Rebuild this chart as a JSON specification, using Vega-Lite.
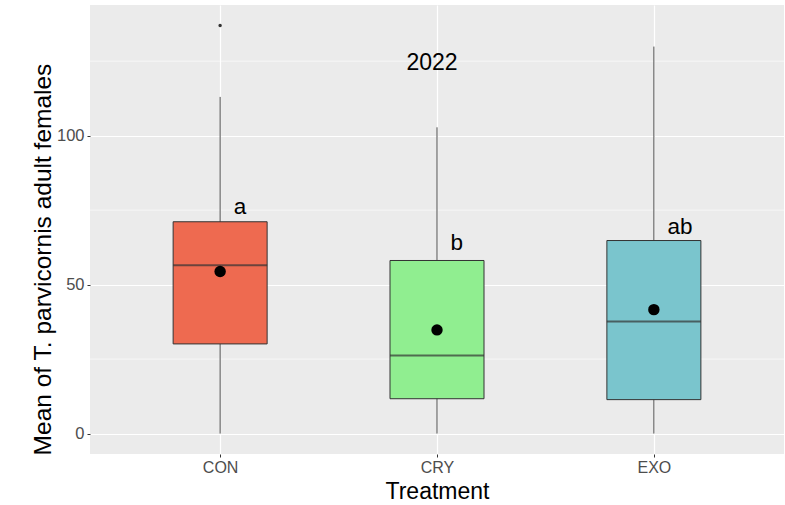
{
  "$schema": "https://vega.github.io/schema/vega-lite/v6.json",
  "width": 694,
  "height": 449,
  "autosize": {"type": "none"},
  "padding": {"left": 90, "top": 5, "right": 1, "bottom": 51},
  "background": "white",
  "config": {
    "view": {"fill": "#EBEBEB", "stroke": null},
    "font": "Liberation Sans"
  },
  "datasets": {
    "stats": [
      {"Treatment": "CON", "lower": 0, "q1": 30.1, "median": 56.5, "q3": 71.1, "upper": 113, "mean": 54.4, "letter": "a", "letterY": 76},
      {"Treatment": "CRY", "lower": 0, "q1": 11.7, "median": 26.2, "q3": 58.1, "upper": 102.8, "mean": 34.8, "letter": "b", "letterY": 64},
      {"Treatment": "EXO", "lower": 0, "q1": 11.4, "median": 37.6, "q3": 64.8, "upper": 129.9, "mean": 41.6, "letter": "ab", "letterY": 69.5}
    ],
    "outliers": [
      {"Treatment": "CON", "value": 137}
    ],
    "minor": [
      {"v": 25}, {"v": 75}, {"v": 125}
    ],
    "yeartext": [
      {"Treatment": "CRY", "value": 124.5, "text": "2022"}
    ]
  },
  "layer": [
    {
      "data": {"name": "minor"},
      "mark": {"type": "rule", "color": "white", "strokeWidth": 0.6},
      "encoding": {
        "y": {"field": "v", "type": "quantitative", "scale": {"domain": [-6.85, 143.85], "nice": false, "zero": false}}
      }
    },
    {
      "data": {"name": "stats"},
      "mark": {"type": "rule", "color": "#4D4D4D", "strokeWidth": 1},
      "encoding": {
        "x": {
          "field": "Treatment", "type": "nominal",
          "scale": {"type": "point", "padding": 0.6},
          "axis": {
            "title": "Treatment", "titleFontSize": 23, "titleColor": "black", "titleFontWeight": "normal", "titlePadding": 5,
            "labelFontSize": 16, "labelColor": "#4D4D4D", "labelPadding": 2, "labelAngle": 0,
            "tickSize": 3, "tickColor": "#333333", "domain": false,
            "grid": true, "gridColor": "white", "gridWidth": 1.2
          }
        },
        "y": {
          "field": "lower", "type": "quantitative",
          "scale": {"domain": [-6.85, 143.85], "nice": false, "zero": false},
          "axis": {
            "title": "Mean of T. parvicornis adult females", "titleFontSize": 24.5, "titleColor": "black", "titleFontWeight": "normal",
            "titleX": -47, "titleY": 254, "titleBaseline": "middle", "titleAngle": -90, "titleAlign": "center",
            "values": [0, 50, 100], "labelFontSize": 16.5, "labelColor": "#4D4D4D", "labelPadding": 3,
            "tickSize": 3, "tickColor": "#333333", "domain": false,
            "grid": true, "gridColor": "white", "gridWidth": 1.2
          }
        },
        "y2": {"field": "upper"}
      }
    },
    {
      "data": {"name": "stats"},
      "mark": {"type": "bar", "width": 94, "stroke": "#333333", "strokeWidth": 1},
      "encoding": {
        "x": {"field": "Treatment", "type": "nominal"},
        "y": {"field": "q1", "type": "quantitative"},
        "y2": {"field": "q3"},
        "color": {
          "field": "Treatment", "type": "nominal",
          "scale": {"domain": ["CON", "CRY", "EXO"], "range": ["#EE6A50", "#90EE90", "#7AC5CD"]},
          "legend": null
        }
      }
    },
    {
      "data": {"name": "stats"},
      "mark": {"type": "tick", "color": "#333333", "thickness": 2, "size": 94, "orient": "horizontal"},
      "encoding": {
        "x": {"field": "Treatment", "type": "nominal"},
        "y": {"field": "median", "type": "quantitative"}
      }
    },
    {
      "data": {"name": "stats"},
      "mark": {"type": "point", "filled": true, "color": "black", "size": 130, "opacity": 1},
      "encoding": {
        "x": {"field": "Treatment", "type": "nominal"},
        "y": {"field": "mean", "type": "quantitative"}
      }
    },
    {
      "data": {"name": "outliers"},
      "mark": {"type": "point", "filled": true, "color": "#333333", "size": 12, "opacity": 1},
      "encoding": {
        "x": {"field": "Treatment", "type": "nominal"},
        "y": {"field": "value", "type": "quantitative"}
      }
    },
    {
      "data": {"name": "stats"},
      "mark": {"type": "text", "fontSize": 22.5, "color": "black", "dx": 13.5, "align": "left", "baseline": "middle"},
      "encoding": {
        "x": {"field": "Treatment", "type": "nominal"},
        "y": {"field": "letterY", "type": "quantitative"},
        "text": {"field": "letter"}
      }
    },
    {
      "data": {"name": "yeartext"},
      "mark": {"type": "text", "fontSize": 23, "color": "black", "dx": -5, "baseline": "middle"},
      "encoding": {
        "x": {"field": "Treatment", "type": "nominal"},
        "y": {"field": "value", "type": "quantitative"},
        "text": {"field": "text"}
      }
    }
  ]
}
